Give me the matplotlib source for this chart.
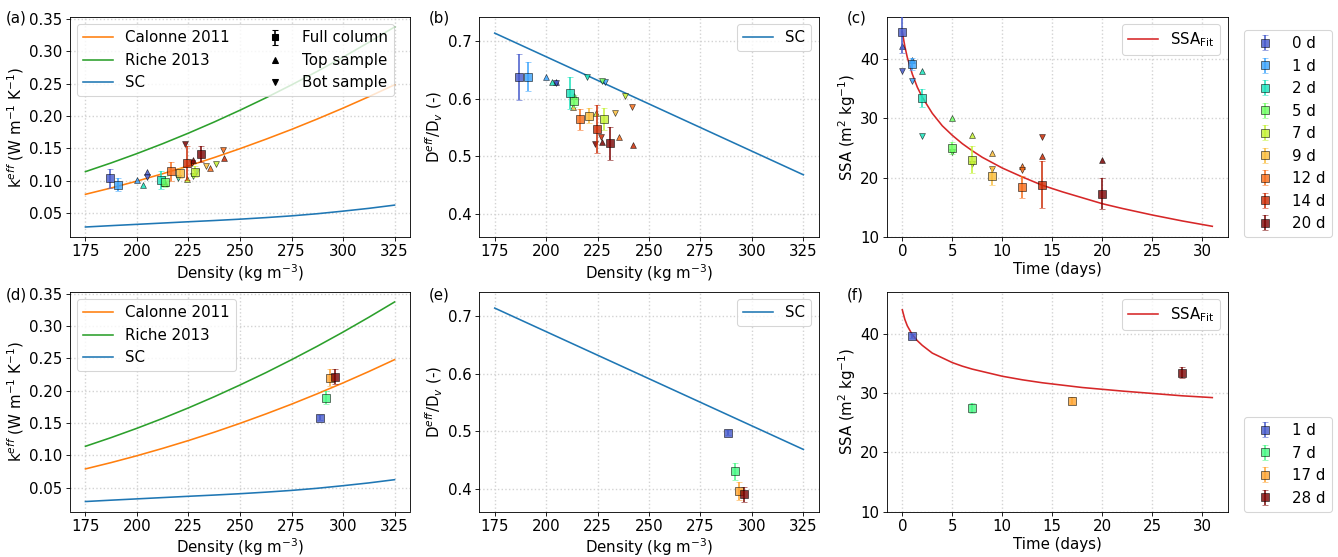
import numpy as np
import matplotlib.pyplot as plt
from matplotlib import cm
from matplotlib.lines import Line2D

plt.rcParams['font.size'] = 14
plt.rcParams['axes.labelpad'] = 2.5

# ---------------- data ----------------
days = [0, 1, 2, 5, 7, 9, 12, 14, 20]
day_labels = ['0 d', '1 d', '2 d', '5 d', '7 d', '9 d', '12 d', '14 d', '20 d']

# full column (snow column)
rho_full = [187.0, 191.0, 211.5, 213.7, 228.0, 220.7, 216.3, 224.5, 231.2]
k_full = [0.1035, 0.0935, 0.1005, 0.0985, 0.1140, 0.1115, 0.1145, 0.1276, 0.1414]
k_full_err = [0.015, 0.010, 0.014, 0.008, 0.009, 0.008, 0.015, 0.026, 0.012]
D_full = [0.6385, 0.638, 0.610, 0.596, 0.5655, 0.5707, 0.5644, 0.5477, 0.5224]
D_full_err = [0.040, 0.025, 0.027, 0.010, 0.019, 0.013, 0.018, 0.041, 0.028]
ssa_full = [44.5, 39.1, 33.4, 24.95, 23.0, 20.2, 18.4, 18.8, 17.3]
ssa_full_err = [3.5, 1.0, 1.5, 1.0, 2.3, 1.5, 1.9, 3.9, 2.6]

# top samples
rho_top = [204.8, 200.0, 203.0, 213.7, 224.4, 212.9, 235.2, 242.0, 227.1]
k_top = [0.1132, 0.101, 0.0928, 0.097, 0.103, 0.096, 0.120, 0.135, 0.1316]
D_top = [0.629, 0.637, 0.630, 0.6046, 0.576, 0.585, 0.533, 0.520, 0.525]
ssa_top = [42.2, 39.8, 38.0, 30.0, 27.1, 24.2, 21.9, 23.7, 22.9]

# bottom samples
rho_bot = [204.8, 228.5, 219.8, 227.3, 238.4, 233.6, 241.7, 226.8, 223.5]
k_bot = [0.105, 0.114, 0.1035, 0.107, 0.1265, 0.122, 0.147, 0.128, 0.157]
D_bot = [0.628, 0.629, 0.638, 0.631, 0.605, 0.576, 0.585, 0.533, 0.521]
ssa_bot = [38.0, 36.2, 27.0, 24.3, 22.3, 21.5, 21.3, 26.8, np.nan]

# second experiment
days2 = [1, 7, 17, 28]
day2_labels = ['1 d', '7 d', '17 d', '28 d']
rho2 = [288.6, 291.7, 293.6, 296.2]
k2 = [0.158, 0.189, 0.2204, 0.222]
k2_err = [0.004, 0.010, 0.013, 0.011]
D2 = [0.497, 0.430, 0.396, 0.390]
D2_err = [0.004, 0.015, 0.016, 0.013]
ssa2 = [39.6, 27.46, 28.7, 33.4]
ssa2_err = [0.4, 0.9, 0.6, 0.9]

# model curves
rho_model = [175, 187.5, 200, 212.5, 225, 237.5, 250, 262.5, 275, 287.5, 300, 312.5, 325]
k_calonne = [0.0790, 0.0888, 0.0994, 0.1108, 0.1229, 0.1358, 0.1495, 0.1640, 0.1792,
             0.1953, 0.2121, 0.2297, 0.2481]
k_riche = [0.1140, 0.1275, 0.1419, 0.1572, 0.1735, 0.1907, 0.2089, 0.2279, 0.2480,
           0.2689, 0.2908, 0.3137, 0.3374]
k_sc = [0.0285, 0.0306, 0.0326, 0.0346, 0.0366, 0.0385, 0.0406, 0.0430, 0.0457,
        0.0490, 0.0530, 0.0573, 0.0623]
D_sc = [0.714, 0.6935, 0.673, 0.6525, 0.632, 0.6115, 0.591, 0.5705, 0.550,
        0.5295, 0.509, 0.4885, 0.468]

t_fit = [0, 0.25, 0.5, 1, 1.5, 2, 3, 4, 5, 6, 7, 8, 10, 12, 14, 16, 18, 20, 22, 25, 28, 31]
ssa_fit1 = [44.5, 42.1, 40.2, 37.4, 35.2, 33.5, 30.8, 28.7, 27.1, 25.7, 24.5, 23.4,
            21.6, 20.1, 18.7, 17.6, 16.6, 15.6, 14.8, 13.7, 12.7, 11.8]
ssa_fit2 = [44.0, 42.4, 41.3, 39.8, 38.8, 38.0, 36.7, 35.9, 35.1, 34.5, 34.0, 33.6,
            32.8, 32.2, 31.7, 31.3, 30.9, 30.6, 30.3, 29.9, 29.5, 29.2]

colors = cm.turbo(np.linspace(0.1, 1, len(days)))
colors2 = cm.turbo(np.linspace(0.1, 1, len(days2)))

W, H = 1338, 557
DPI = 77
fig = plt.figure(figsize=(W / DPI, H / DPI), dpi=DPI)


def px_axes(left, top, right, bottom):
    return fig.add_axes([left / W, 1 - bottom / H, (right - left) / W, (bottom - top) / H])


ax_a = px_axes(70, 17, 410, 237)
ax_b = px_axes(479.3, 17, 818.8, 237)
ax_c = px_axes(886.8, 17, 1227.8, 237)
ax_d = px_axes(70, 292, 410, 511.5)
ax_e = px_axes(479.3, 292, 818.8, 511.5)
ax_f = px_axes(886.8, 292, 1227.8, 511.5)

ms_sq = 7.1
s_tri = 30


def points(ax, x_f, y_f, e_f, cols, labels, x_t=None, y_t=None, x_b=None, y_b=None):
    for i, c in enumerate(cols):
        if x_t is not None:
            ax.scatter(x_t[i], y_t[i], marker='^', s=s_tri, color=c, edgecolors='k',
                       linewidths=0.5, alpha=0.85, zorder=3)
            ax.scatter(x_b[i], y_b[i], marker='v', s=s_tri, color=c, edgecolors='k',
                       linewidths=0.5, alpha=0.85, zorder=3)
        ax.errorbar(x_f[i], y_f[i], yerr=e_f[i], fmt='s', color=c, mec='k', mew=0.6,
                    ms=ms_sq, capsize=2.6, elinewidth=1.8, alpha=0.8, label=labels[i], zorder=4)


def grid(ax):
    ax.grid(True, linestyle=':', color='lightgray', linewidth=1.3)
    ax.set_axisbelow(True)


# (a) and (d): thermal conductivity
for ax in (ax_a, ax_d):
    ax.plot(rho_model, k_calonne, color='C1', label='Calonne 2011')
    ax.plot(rho_model, k_riche, color='C2', label='Riche 2013')
    ax.plot(rho_model, k_sc, color='C0', label='SC')
    ax.set_xlabel('Density (kg m$^{-3}$)')
    ax.set_ylabel('k$^{eff}$ (W m$^{-1}$ K$^{-1}$)')
    ax.set_xticks([175, 200, 225, 250, 275, 300, 325])
    ax.set_yticks([0.05, 0.10, 0.15, 0.20, 0.25, 0.30, 0.35])
    grid(ax)

model_handles = ax_a.get_legend_handles_labels()[0][:3]
points(ax_a, rho_full, k_full, k_full_err, colors, day_labels, rho_top, k_top, rho_bot, k_bot)
h_full = ax_a.errorbar([np.nan], [np.nan], yerr=[np.nan], fmt='s', color='k', ms=ms_sq * 0.8,
                       capsize=2.6, label='Full column')
h_top = Line2D([], [], marker='^', ls='none', color='k', ms=5.5, label='Top sample')
h_bot = Line2D([], [], marker='v', ls='none', color='k', ms=5.5, label='Bot sample')
ax_a.legend(model_handles + [h_full, h_top, h_bot],
            ['Calonne 2011', 'Riche 2013', 'SC', 'Full column', 'Top sample', 'Bot sample'],
            ncol=2, loc='upper left', columnspacing=2.0)

points(ax_d, rho2, k2, k2_err, colors2, day2_labels)
ax_d.legend(ax_d.get_legend_handles_labels()[0][:3], ['Calonne 2011', 'Riche 2013', 'SC'],
            loc='upper left')

# (b) and (e): diffusivity
for ax in (ax_b, ax_e):
    ax.plot(rho_model, D_sc, color='C0', label='SC')
    ax.set_xlabel('Density (kg m$^{-3}$)')
    ax.set_ylabel('D$^{eff}$/D$_v$ (-)')
    ax.set_xticks([175, 200, 225, 250, 275, 300, 325])
    ax.set_yticks([0.4, 0.5, 0.6, 0.7])
    ax.set_ylim(0.36, 0.742)
    grid(ax)
    ax.legend(loc='upper right')

points(ax_b, rho_full, D_full, D_full_err, colors, day_labels, rho_top, D_top, rho_bot, D_bot)
points(ax_e, rho2, D2, D2_err, colors2, day2_labels)

# (c) and (f): SSA
for ax, fit in ((ax_c, ssa_fit1), (ax_f, ssa_fit2)):
    ax.plot(t_fit, fit, color='tab:red', label='SSA$_{\\mathrm{Fit}}$')
    ax.set_xlabel('Time (days)')
    ax.set_ylabel('SSA (m$^2$ kg$^{-1}$)')
    ax.set_xticks([0, 5, 10, 15, 20, 25, 30])
    ax.set_yticks([10, 20, 30, 40])
    ax.set_ylim(10, 47)
    grid(ax)

points(ax_c, days, ssa_full, ssa_full_err, colors, day_labels, days, ssa_top, days, ssa_bot)
points(ax_f, days2, ssa2, ssa2_err, colors2, day2_labels)

for ax in (ax_c, ax_f):
    h, l = ax.get_legend_handles_labels()
    leg1 = ax.legend(h[:1], l[:1], loc='upper right')
    ax.add_artist(leg1)
    ax.legend(h[1:], l[1:], loc='lower left', bbox_to_anchor=(1.048, 0.0), borderaxespad=0)

# panel letters
for lab, x, y in [('(a)', 6, 18), ('(b)', 429, 18), ('(c)', 847, 18),
                  ('(d)', 6, 295), ('(e)', 429, 295), ('(f)', 847, 295)]:
    fig.text(x / W, 1 - y / H, lab, va='center', ha='left')

fig.savefig('out.png', dpi=DPI)
